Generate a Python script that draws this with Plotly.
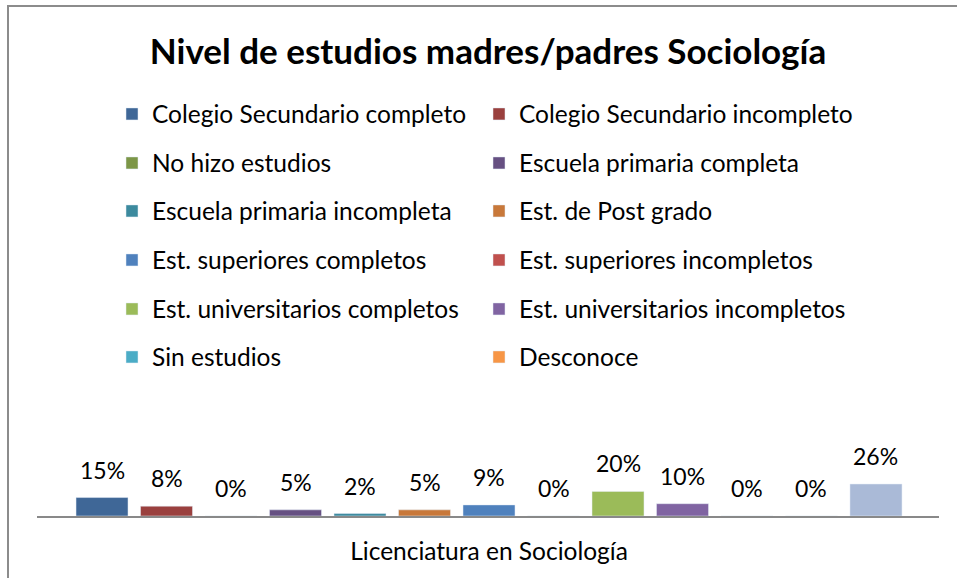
import plotly.graph_objects as go

title = "Nivel de estudios madres/padres Sociología"
category = "Licenciatura en Sociología"
series_names = [
    "Colegio Secundario completo", "Colegio Secundario incompleto",
    "No hizo estudios", "Escuela primaria completa",
    "Escuela primaria incompleta", "Est. de Post grado",
    "Est. superiores completos", "Est. superiores incompletos",
    "Est. universitarios completos", "Est. universitarios incompletos",
    "Sin estudios", "Desconoce", "Otro",
]
values = [15, 8, 0, 5, 2, 5, 9, 0, 20, 10, 0, 0, 26]
colors = [
    "#3F6797", "#9A403E", "#7C9647", "#665082", "#3C8A9E", "#C8783A",
    "#4F81BD", "#C0504D", "#9BBB59", "#8064A2", "#4BACC6", "#F79646",
    "#AABAD7",
]

W, H = 957, 578
L, R, T, B = 37, 18, 400, 62
pw, ph = W - L - R, H - T - B
FONT = "Lato"

def px2x(px):
    return (px - L) / pw

def py2y(py):
    return (H - B - py) / ph

fig = go.Figure()
n_leg = 12
for i, (name, v, c) in enumerate(zip(series_names, values, colors)):
    show = i < n_leg
    fig.add_trace(go.Bar(
        x=[i], y=[v], name=name, marker_color=c, width=0.806,
        showlegend=show, legend=("legend" if i == 0 else f"legend{i+1}") if show else None,
        hovertemplate=f"{name}: %{{y}}%<extra></extra>",
    ))
    fig.add_annotation(x=i, y=v, text=f"{v}%", showarrow=False, yanchor="middle",
                       yshift=28, font=dict(family=FONT, size=23, color="#000"))

legend_layout = {}
row_y = [114, 163, 211, 260, 309, 357]
col_x = [152, 519]
for i in range(n_leg):
    key = "legend" if i == 0 else f"legend{i+1}"
    r, cidx = divmod(i, 2)
    legend_layout[key] = dict(
        x=(col_x[cidx] - 40) / W, y=1 - row_y[r] / H, xref="container", yref="container",
        xanchor="left", yanchor="middle",
        orientation="v", bgcolor="rgba(0,0,0,0)",
        font=dict(family=FONT, size=24.5, color="#000"),
    )

fig.update_layout(
    width=W, height=H, margin=dict(l=L, r=R, t=T, b=B, autoexpand=False),
    paper_bgcolor="white", plot_bgcolor="white",
    title=dict(text=f"<b>{title}</b>", x=488 / W, xref="container", y=1 - 52 / H, yref="container",
               xanchor="center", yanchor="middle",
               font=dict(family=FONT, size=35, color="#000")),
    xaxis=dict(range=[-1.008, 12.977], tickvals=[6], ticktext=[category],
               showgrid=False, zeroline=False, showline=True, linecolor="#898989",
               linewidth=2, ticks="outside", ticklen=13, tickcolor="rgba(0,0,0,0)",
               tickfont=dict(family=FONT, size=24.5, color="#000"), fixedrange=True),
    yaxis=dict(range=[0, ph / (32 / 26)], visible=False, fixedrange=True),
    shapes=[dict(type="rect", xref="paper", yref="paper",
                 x0=px2x(8), x1=px2x(990), y0=py2y(620), y1=py2y(6),
                 line=dict(color="#8C8C8C", width=2), layer="above")],
    **legend_layout,
)

fig.write_html("out.html", config={"displayModeBar": False},
               post_script="document.body.style.margin='0';document.body.style.overflow='hidden';")
